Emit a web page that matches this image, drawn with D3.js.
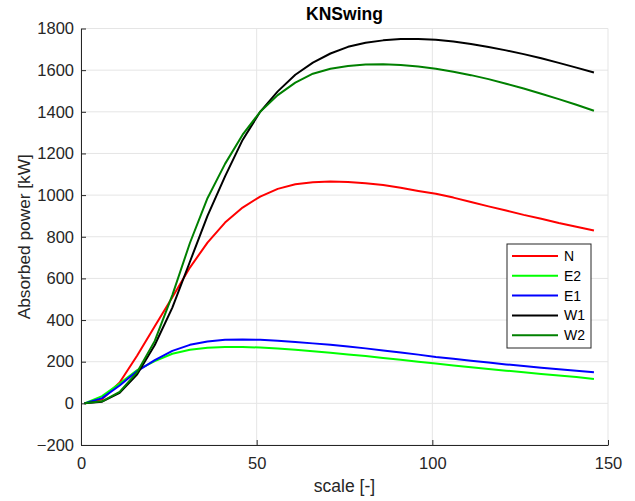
<!DOCTYPE html>
<html>
<head>
<meta charset="utf-8">
<script src="https://cdn.jsdelivr.net/npm/d3@7"></script>
<style>
  body { margin: 0; background: #fff; }
  text { font-family: "Liberation Sans", Arial, sans-serif; }
</style>
</head>
<body>
<svg id="chart" width="635" height="501"></svg>
<script>
// scale values (x axis)
var scaleX = [1, 6, 11, 16, 21, 26, 31, 36, 41, 46, 51, 56, 61, 66, 71, 76, 81, 86, 91, 96,
  101, 106, 111, 116, 121, 126, 131, 136, 141, 146];

// absorbed power [kW] per direction
var powerN = [0, 20, 100, 230, 370, 510, 652, 772, 868, 940, 993, 1030, 1052, 1062, 1065, 1063, 1057, 1048, 1035, 1020,
  1006, 988, 967, 946, 926, 905, 886, 866, 848, 830];
var powerE2 = [0, 35, 95, 160, 203, 238, 257, 267, 271, 271, 268, 263, 257, 250, 243, 235, 227, 218, 209, 200,
  191, 182, 173, 165, 157, 149, 141, 134, 126, 117];
var powerE1 = [0, 25, 86, 155, 208, 252, 281, 297, 305, 307, 305, 301, 295, 288, 281, 273, 264, 254, 244, 234,
  223, 214, 205, 196, 187, 179, 171, 164, 156, 149];
var powerW1 = [0, 8, 50, 140, 280, 460, 680, 900, 1090, 1265, 1400, 1498, 1578, 1636, 1680, 1712, 1732, 1743, 1749, 1750,
  1746, 1738, 1726, 1711, 1695, 1677, 1657, 1635, 1612, 1589];
var powerW2 = [0, 10, 55, 150, 300, 520, 770, 985, 1150, 1290, 1400, 1480, 1540, 1583, 1607, 1620, 1627, 1628, 1625, 1618,
  1607, 1592, 1576, 1557, 1535, 1512, 1487, 1461, 1434, 1405];

var seriesNames = ["N", "E2", "E1", "W1", "W2"];
var seriesColors = ["#ff0000", "#00ff00", "#0000ff", "#000000", "#008000"];
var xTicks = [0, 50, 100, 150];
var yTicks = [-200, 0, 200, 400, 600, 800, 1000, 1200, 1400, 1600, 1800];

var allSeries = [powerN, powerE2, powerE1, powerW1, powerW2];

var svg = d3.select("#chart");
var margin = {top: 28.5, right: 27, bottom: 56, left: 81},
    width = 635 - margin.left - margin.right,
    height = 501 - margin.top - margin.bottom;

var g = svg.append("g").attr("transform", "translate(" + margin.left + "," + margin.top + ")");

var x = d3.scaleLinear().domain([0, 150]).range([0, width]);
var y = d3.scaleLinear().domain([-200, 1800]).range([height, 0]);

// grid
g.append("g").selectAll("line").data(xTicks).enter().append("line")
  .attr("x1", function(d) { return x(d); }).attr("x2", function(d) { return x(d); })
  .attr("y1", 0).attr("y2", height)
  .attr("stroke", "#e5e5e5").attr("stroke-width", 1);
g.append("g").selectAll("line").data(yTicks).enter().append("line")
  .attr("x1", 0).attr("x2", width)
  .attr("y1", function(d) { return y(d); }).attr("y2", function(d) { return y(d); })
  .attr("stroke", "#e5e5e5").attr("stroke-width", 1);

// axes
var xAxis = g.append("g")
  .attr("transform", "translate(0," + height + ")")
  .call(d3.axisBottom(x).tickValues(xTicks).tickFormat(d3.format("d"))
    .tickSizeInner(-5).tickSizeOuter(0).tickPadding(12));
var yAxis = g.append("g")
  .call(d3.axisLeft(y).tickValues(yTicks).tickFormat(d3.format("d"))
    .tickSizeInner(-5).tickSizeOuter(0).tickPadding(7));

[xAxis, yAxis].forEach(function(a) {
  a.selectAll("path, line").attr("stroke", "#262626");
  a.selectAll("text").attr("fill", "#262626").style("font-size", "16.5px")
    .style("font-family", "'Liberation Sans', Arial, sans-serif");
});

// lines
var line = d3.line()
  .x(function(d, i) { return x(scaleX[i]); })
  .y(function(d) { return y(d); });

allSeries.forEach(function(s, i) {
  g.append("path")
    .datum(s)
    .attr("fill", "none")
    .attr("stroke", seriesColors[i])
    .attr("stroke-width", 2)
    .attr("stroke-linejoin", "round")
    .attr("d", line);
});

// title and labels
svg.append("text")
  .attr("x", margin.left + width / 2).attr("y", 20)
  .attr("text-anchor", "middle")
  .style("font-size", "17.5px").style("font-weight", "bold")
  .attr("fill", "#000")
  .text("KNSwing");

svg.append("text")
  .attr("x", margin.left + width / 2).attr("y", 492)
  .attr("text-anchor", "middle")
  .style("font-size", "17.5px")
  .attr("fill", "#262626")
  .text("scale [-]");

svg.append("text")
  .attr("transform", "translate(30," + (margin.top + height / 2) + ") rotate(-90)")
  .attr("text-anchor", "middle")
  .style("font-size", "17.3px")
  .attr("fill", "#262626")
  .text("Absorbed power [kW]");

// legend
var legend = svg.append("g").attr("transform", "translate(507,244)");
legend.append("rect")
  .attr("x", 0).attr("y", 0).attr("width", 84).attr("height", 104)
  .attr("fill", "#fff").attr("stroke", "#262626").attr("stroke-width", 1);

seriesNames.forEach(function(name, i) {
  var ly = 12 + i * 19.8;
  legend.append("line")
    .attr("x1", 5).attr("x2", 51).attr("y1", ly).attr("y2", ly)
    .attr("stroke", seriesColors[i]).attr("stroke-width", 2);
  legend.append("text")
    .attr("x", 57).attr("y", ly + 5)
    .style("font-size", "14px")
    .attr("fill", "#000")
    .text(name);
});
</script>
</body>
</html>
